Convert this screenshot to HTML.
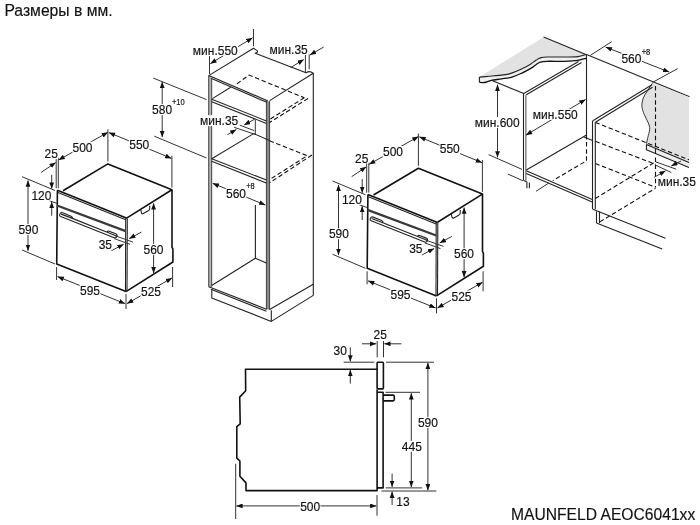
<!DOCTYPE html>
<html><head><meta charset="utf-8"><style>
html,body{margin:0;padding:0;background:#fff;width:700px;height:525px;overflow:hidden}
svg{display:block;filter:grayscale(1)}
text{font-family:"Liberation Sans",sans-serif;fill:#111;stroke:#111;stroke-width:0.15px}
.d{stroke:#333;stroke-width:1;fill:none}
.o{stroke:#111;stroke-width:1.6;fill:none;stroke-linejoin:round}
.o2{stroke:#222;stroke-width:1.1;fill:none;stroke-linejoin:round}
.o3{stroke:#666;stroke-width:1;fill:none}
.e{stroke:#333;stroke-width:0.9;fill:none}
.th{stroke:#fff;stroke-width:3px;paint-order:stroke;stroke-linejoin:round}
.ds{stroke:#111;stroke-width:1.1;fill:none;stroke-dasharray:4.5 2.6}
</style></head><body>
<svg width="700" height="525" viewBox="0 0 700 525">
<defs>
<marker id="ah" markerWidth="8" markerHeight="6" refX="6.2" refY="2.4" orient="auto" markerUnits="userSpaceOnUse"><path d="M0,0 L6.4,2.4 L0,4.8 z" fill="#111"/></marker>
<marker id="ahs" markerWidth="8" markerHeight="6" refX="0.2" refY="2.4" orient="auto" markerUnits="userSpaceOnUse"><path d="M6.4,0 L0,2.4 L6.4,4.8 z" fill="#111"/></marker>
</defs>
<g id="oven">
<path class="o" d="M63,190.7 L107.9,163.9 L171.9,189.8 L127,217.9"/>
<path class="o" d="M172,189.8 L172,247.3 L172.9,248.8 L172.9,262 L126,291.6"/>
<path class="o" d="M57.4,190.3 L56.7,264 L126,291.6"/>
<path class="o2" d="M125.7,218.3 L125.5,291.6"/>
<path class="o2" d="M127.3,218.3 L127,291"/>
<path class="o" d="M57.4,190.3 L127,218.3"/>
<path class="o2" d="M58,192.5 L125.7,219.8"/>
<path d="M57,205.5 L125.7,231.2" stroke="#3a3a3a" stroke-width="2.3" fill="none"/>
<path class="o2" transform="translate(59.3,216) rotate(21.6)" d="M0,-1 Q-0.8,-4.2 2,-4.2 L11,-4.2 Q13,-4.2 13,-2.6 L50.5,-2.6 L50.5,-3 Q50.5,-4.2 52,-4.2 L59,-4.2 Q61.5,-4.2 61,-1.5 Q60.5,0 59,0 L1.5,0 Q0,0 0,-1 Z M1,-2.4 L13,-2.6 M50.5,-2.6 L60.5,-2.4"/>
<path class="o2" d="M140.8,209.6 L141.5,213 Q142,214.3 143.3,213.6 L148.6,210.6 Q149.7,209.9 149.7,208.5 L149.8,205.8"/>
<line class="d" x1="58.6" y1="160" x2="107.9" y2="132.3" marker-start="url(#ahs)" marker-end="url(#ah)"/>
<path class="d" d="M56.2,157.9 L56.2,188.3"/>
<path class="d" d="M58.3,157.9 L58.3,188.3"/>
<line class="d" x1="41.1" y1="172.4" x2="55.7" y2="162.6" marker-end="url(#ah)"/>
<path class="d" d="M107.9,129.3 L107.9,161.5"/>
<line class="d" x1="108.9" y1="132.6" x2="171.4" y2="158.3" marker-start="url(#ahs)" marker-end="url(#ah)"/>
<path class="d" d="M171.9,155.7 L171.9,187.6"/>
<path class="d" d="M22.1,176.7 L55,190.5"/>
<line class="d" x1="51.7" y1="174.8" x2="51.7" y2="188.6" marker-end="url(#ah)"/>
<path class="d" d="M48.8,200.5 L56.9,203.3"/>
<line class="d" x1="51.7" y1="215.7" x2="51.7" y2="201.9" marker-end="url(#ah)"/>
<line class="d" x1="28" y1="180.5" x2="28" y2="250.7" marker-start="url(#ahs)" marker-end="url(#ah)"/>
<path class="d" d="M22.1,250 L55,264"/>
<line class="d" x1="153.6" y1="203.3" x2="153.6" y2="273" marker-start="url(#ahs)" marker-end="url(#ah)"/>
<line class="d" x1="141.4" y1="232.1" x2="129.3" y2="238.6" marker-end="url(#ah)"/>
<line class="d" x1="111.4" y1="250.7" x2="123.6" y2="244.3" marker-end="url(#ah)"/>
<path class="d" d="M115,235.7 L132.9,242.1"/>
<path class="d" d="M114.3,238.6 L130,244.3"/>
<path class="d" d="M56.6,267 L56.6,280"/>
<path class="d" d="M126,294 L126,309"/>
<path class="d" d="M172.6,267 L172.6,287"/>
<line class="d" x1="57.6" y1="276.6" x2="125" y2="303.6" marker-start="url(#ahs)" marker-end="url(#ah)"/>
<line class="d" x1="127" y1="303.6" x2="172" y2="278" marker-start="url(#ahs)" marker-end="url(#ah)"/>
<rect x="72.16" y="141.69" width="20.68" height="10.94" fill="#fff"/>
<text transform="translate(72.48,151.70) scale(1,1.1)" font-size="12">500</text>
<rect x="44.33" y="148.19" width="13.84" height="10.94" fill="#fff"/>
<text transform="translate(44.53,158.20) scale(1,1.1)" font-size="12">25</text>
<rect x="128.96" y="138.89" width="20.68" height="10.94" fill="#fff"/>
<text transform="translate(129.28,148.90) scale(1,1.1)" font-size="12">550</text>
<rect x="31.52" y="189.79" width="20.26" height="10.94" fill="#fff"/>
<text transform="translate(31.42,199.80) scale(1,1.1)" font-size="12">120</text>
<rect x="18.06" y="223.99" width="20.68" height="10.94" fill="#fff"/>
<text transform="translate(18.38,234.00) scale(1,1.1)" font-size="12">590</text>
<rect x="143.21" y="243.89" width="20.68" height="10.94" fill="#fff"/>
<text transform="translate(143.53,253.90) scale(1,1.1)" font-size="12">560</text>
<rect x="98.36" y="238.89" width="13.99" height="10.94" fill="#fff"/>
<text transform="translate(98.70,248.90) scale(1,1.1)" font-size="12">35</text>
<rect x="79.68" y="284.69" width="20.65" height="10.94" fill="#fff"/>
<text transform="translate(80.00,294.70) scale(1,1.1)" font-size="12">595</text>
<rect x="140.67" y="286.29" width="20.65" height="10.94" fill="#fff"/>
<text transform="translate(141.00,296.30) scale(1,1.1)" font-size="12">525</text>
</g>
<use href="#oven" transform="translate(310.5,4.3)"/>
<rect x="208.7" y="76" width="3" height="211" fill="#b4b4b4"/>
<path class="e" d="M208.7,75.6 L208.7,286.7"/>
<path class="e" d="M211.7,78 L211.7,286.7"/>
<rect x="266.4" y="101.5" width="3.2" height="208" fill="#8a8a8a"/>
<path class="e" d="M266.4,101 L266.4,309.5"/>
<path class="e" d="M269.6,101 L269.6,309.5"/>
<path class="o2" d="M208.7,75.6 L253.5,48.3 L257,50.6 Q258.2,51.6 256.8,52.5 L255.2,53.3 L306,72.7 Q309,71 311,72 L313.3,73.3 L269.6,100.6"/>
<path class="o2" d="M208.7,75.6 L267.9,100.9"/>
<path class="o2" d="M211.5,78.6 L266.8,102.3"/>
<path class="o2" d="M313.3,73.3 L313.3,295.4"/>
<path class="o2" d="M211.7,99.2 L266.4,120.9"/>
<path class="o2" d="M211.7,101.8 L266.4,123.4"/>
<path class="o2" d="M212.4,98.6 L230.7,87.2"/>
<path class="ds" d="M237,83.7 L249,75.1 L304.3,97.7"/>
<path class="ds" d="M304.3,97.7 L269.6,119.5"/>
<path class="ds" d="M308,98.5 L269.6,122.5"/>
<path class="d" d="M255.3,119.2 L255.3,135"/>
<path class="o2" d="M253.7,133.6 L269.6,140.6"/>
<path class="d" d="M239.7,125.1 L254.3,130.7"/>
<path class="d" d="M234.1,127.3 L254.3,134.1"/>
<path class="o2" d="M211.7,158.8 L266.4,180"/>
<path class="o2" d="M211.7,161.2 L266.4,183"/>
<path class="o2" d="M211.7,158.8 L253.7,133.6"/>
<path class="ds" d="M269.6,140.8 L307.2,155.7 L269.6,179.6"/>
<path class="ds" d="M312,155 L269.6,182.8"/>
<line class="d" x1="227.5" y1="134.6" x2="236.3" y2="129.5" marker-end="url(#ah)"/>
<line class="d" x1="254.4" y1="119.3" x2="244.2" y2="124.9" marker-end="url(#ah)"/>
<rect x="200.08" y="115.19" width="38.53" height="10.94" fill="#fff"/>
<text transform="translate(200.04,125.20) scale(1,1.1)" font-size="12">мин.35</text>
<line class="d" x1="212.7" y1="183.3" x2="265.3" y2="205" marker-start="url(#ahs)" marker-end="url(#ah)"/>
<rect x="225.66" y="188.29" width="20.68" height="10.94" fill="#fff"/>
<text transform="translate(225.98,198.30) scale(1,1.1)" font-size="12">560</text>
<rect x="246.06" y="183.05" width="8.87" height="6.84" fill="#fff"/>
<text transform="translate(246.21,189.30) scale(1,1.1)" font-size="7.5">+8</text>
<path class="o2" d="M255.4,205 L255.4,258.2"/>
<path class="o2" d="M211.7,285.5 L255.4,258.2 L266.4,263"/>
<path class="o2" d="M208.7,286.7 L266.4,309.2"/>
<path class="o2" d="M211,289.2 L266.4,311.3"/>
<path class="o2" d="M211.8,289.2 L211.8,297.9 L271.3,321.4 L271.3,310.3"/>
<path class="o2" d="M271.3,321.4 L313.3,295.4"/>
<path class="o2" d="M269.6,309.5 L313.3,284.2"/>
<path class="d" d="M209.5,55.7 L209.5,74"/>
<path class="d" d="M253.5,29 L253.5,46.3"/>
<line class="d" x1="210.4" y1="63.6" x2="252.5" y2="37.9" marker-start="url(#ahs)" marker-end="url(#ah)"/>
<rect x="192.89" y="44.89" width="45.22" height="10.94" fill="#fff"/>
<text transform="translate(192.85,54.90) scale(1,1.1)" font-size="12">мин.550</text>
<path class="d" d="M305.4,55 L305.4,72.7"/>
<path class="d" d="M309.2,54.4 L309.2,69.3"/>
<line class="d" x1="290.6" y1="67.6" x2="303.7" y2="59.6" marker-end="url(#ah)"/>
<line class="d" x1="323.7" y1="47" x2="310" y2="55" marker-end="url(#ah)"/>
<rect x="269.53" y="43.99" width="38.53" height="10.94" fill="#fff"/>
<text transform="translate(269.49,54.00) scale(1,1.1)" font-size="12">мин.35</text>
<path class="d" d="M153.3,78.1 L206.5,99.6"/>
<path class="d" d="M154.3,136.2 L206.5,158"/>
<line class="d" x1="162.2" y1="81.9" x2="162.2" y2="137.1" marker-start="url(#ahs)" marker-end="url(#ah)"/>
<rect x="151.76" y="104.19" width="20.68" height="10.94" fill="#fff"/>
<text transform="translate(152.08,114.20) scale(1,1.1)" font-size="12">580</text>
<rect x="171.81" y="99.05" width="13.07" height="6.84" fill="#fff"/>
<text transform="translate(171.96,105.30) scale(1,1.1)" font-size="7.5">+10</text>
<path fill="#e2e2e2" stroke="none" d="M543.6,37.1 L586.1,54.4 L585.5,54.6 L585.5,54.6 C584.25,54.93 581.53,56.20 578,56.6 C574.47,57.00 569.45,56.93 564.3,57 C559.15,57.07 551.10,56.85 547.1,57 C543.10,57.15 542.15,57.35 540.3,57.9 C538.45,58.45 537.63,59.25 536,60.3 C534.37,61.35 532.22,63.10 530.5,64.2 C528.78,65.30 527.93,65.75 525.7,66.9 C523.47,68.05 519.95,69.90 517.1,71.1 C514.25,72.30 511.60,73.38 508.6,74.1 C505.60,74.82 502.38,75.03 499.1,75.4 C495.82,75.77 492.18,76.02 488.9,76.3 C485.62,76.58 480.98,76.97 479.4,77.1 L479.4,77.1 Z"/>
<path fill="#f0f0f0" stroke="none" d="M479.4,77.1 C480.98,76.97 485.62,76.58 488.9,76.3 C492.18,76.02 495.82,75.77 499.1,75.4 C502.38,75.03 505.60,74.82 508.6,74.1 C511.60,73.38 514.25,72.30 517.1,71.1 C519.95,69.90 523.47,68.05 525.7,66.9 C527.93,65.75 528.78,65.30 530.5,64.2 C532.22,63.10 534.37,61.35 536,60.3 C537.63,59.25 538.45,58.45 540.3,57.9 C542.15,57.35 543.10,57.15 547.1,57 C551.10,56.85 559.15,57.07 564.3,57 C569.45,56.93 574.47,57.00 578,56.6 C581.53,56.20 584.25,54.93 585.5,54.6 L586,58.3 C584.67,58.65 581.62,59.90 578,60.4 C574.38,60.90 569.45,61.15 564.3,61.3 C559.15,61.45 551.10,61.17 547.1,61.3 C543.10,61.43 542.15,61.53 540.3,62.1 C538.45,62.67 537.58,63.65 536,64.7 C534.42,65.75 533.23,66.97 530.8,68.4 C528.37,69.83 524.53,71.85 521.4,73.3 C518.27,74.75 515.28,76.17 512,77.1 C508.72,78.03 505.13,78.35 501.7,78.9 C498.27,79.45 494.25,79.80 491.4,80.4 C488.55,81.00 486.60,82.18 484.6,82.5 C482.60,82.82 480.27,82.33 479.4,82.3 Z"/>
<path class="o2" d="M479.4,77.1 C480.98,76.97 485.62,76.58 488.9,76.3 C492.18,76.02 495.82,75.77 499.1,75.4 C502.38,75.03 505.60,74.82 508.6,74.1 C511.60,73.38 514.25,72.30 517.1,71.1 C519.95,69.90 523.47,68.05 525.7,66.9 C527.93,65.75 528.78,65.30 530.5,64.2 C532.22,63.10 534.37,61.35 536,60.3 C537.63,59.25 538.45,58.45 540.3,57.9 C542.15,57.35 543.10,57.15 547.1,57 C551.10,56.85 559.15,57.07 564.3,57 C569.45,56.93 574.47,57.00 578,56.6 C581.53,56.20 584.25,54.93 585.5,54.6"/>
<path class="o" style="stroke-width:1.3" d="M479.4,82.3 C480.27,82.33 482.60,82.82 484.6,82.5 C486.60,82.18 488.55,81.00 491.4,80.4 C494.25,79.80 498.27,79.45 501.7,78.9 C505.13,78.35 508.72,78.03 512,77.1 C515.28,76.17 518.27,74.75 521.4,73.3 C524.53,71.85 528.37,69.83 530.8,68.4 C533.23,66.97 534.42,65.75 536,64.7 C537.58,63.65 538.45,62.67 540.3,62.1 C542.15,61.53 543.10,61.43 547.1,61.3 C551.10,61.17 559.15,61.45 564.3,61.3 C569.45,61.15 574.38,60.90 578,60.4 C581.62,59.90 584.67,58.65 586,58.3"/>
<path class="o2" d="M479.4,77.1 L479.4,82.3"/>
<path class="o2" d="M543.6,37.1 L586.5,54.7"/>
<path class="o2" d="M586.5,54.5 L586.5,135"/>
<path class="o2" d="M491.4,80.3 L523.8,93.5"/>
<path class="o2" d="M523.5,93.4 L523.5,180.6"/>
<path class="e" d="M525.9,94.8 L525.9,180.6"/>
<path class="o2" d="M523.8,93.4 L578.5,61.5"/>
<path class="o2" d="M526.3,94.8 L581.5,62.5"/>
<path class="o2" d="M526.3,170 L586.5,134.9"/>
<path class="o2" d="M526.3,170.7 L592.8,199.7"/>
<path class="o2" d="M526.3,173.6 L592.8,202.3"/>
<path class="o2" d="M523.8,180.6 L526.9,182 L526.9,188.2"/>
<path class="o2" d="M529.4,182.5 L529.4,188.2"/>
<path class="ds" d="M586.5,135 L586.5,160.8 L552.8,180.6"/>
<path class="d" d="M549,182.9 L536,191.3"/>
<path class="d" d="M488.6,154.6 L522,169.4"/>
<path class="d" d="M508,174.1 L523,180.8"/>
<line class="d" x1="497.5" y1="84.7" x2="497.5" y2="157.4" marker-start="url(#ahs)" marker-end="url(#ah)"/>
<rect x="474.79" y="116.99" width="45.22" height="10.94" fill="#fff"/>
<text transform="translate(474.75,127.00) scale(1,1.1)" font-size="12">мин.600</text>
<line class="d" x1="526" y1="135.1" x2="585.5" y2="99.5" marker-start="url(#ahs)" marker-end="url(#ah)"/>
<rect x="532.84" y="108.89" width="45.22" height="10.94" fill="#fff"/>
<text transform="translate(532.80,118.90) scale(1,1.1)" font-size="12">мин.550</text>
<path class="o2" d="M586.5,54.5 L689.5,96.8"/>
<path class="d" d="M590.3,55.4 L611.7,41.7"/>
<path class="d" d="M652.5,82.4 L677.7,68.6"/>
<line class="d" x1="605.7" y1="47.1" x2="669.1" y2="72" marker-start="url(#ahs)" marker-end="url(#ah)"/>
<rect x="621.11" y="53.19" width="20.68" height="10.94" fill="#fff"/>
<text transform="translate(621.43,63.20) scale(1,1.1)" font-size="12">560</text>
<rect x="641.56" y="48.95" width="8.87" height="6.84" fill="#fff"/>
<text transform="translate(641.71,55.20) scale(1,1.1)" font-size="7.5">+8</text>
<path fill="#e2e2e2" stroke="none" d="M652.5,82.9 L689,97 L689,167.5 L646.4,149.8 L646.5,144.2 C646.58,143.67 646.70,142.45 647,141 C647.30,139.55 647.93,137.00 648.3,135.5 C648.67,134.00 648.97,133.33 649.2,132 C649.43,130.67 649.92,129.17 649.7,127.5 C649.48,125.83 648.82,124.18 647.9,122 C646.98,119.82 645.20,117.03 644.2,114.4 C643.20,111.77 642.05,108.93 641.9,106.2 C641.75,103.47 642.45,100.45 643.3,98 C644.15,95.55 645.47,93.98 647,91.5 C648.53,89.02 651.58,84.50 652.5,83.1 Z"/>
<path class="o2" style="stroke-width:0.9" d="M652.5,83.1 C651.58,84.50 648.53,89.02 647,91.5 C645.47,93.98 644.15,95.55 643.3,98 C642.45,100.45 641.75,103.47 641.9,106.2 C642.05,108.93 643.20,111.77 644.2,114.4 C645.20,117.03 646.98,119.82 647.9,122 C648.82,124.18 649.48,125.83 649.7,127.5 C649.92,129.17 649.43,130.67 649.2,132 C648.97,133.33 648.67,134.00 648.3,135.5 C647.93,137.00 647.30,139.55 647,141 C646.70,142.45 646.58,143.67 646.5,144.2"/>
<path fill="#eeeeee" stroke="none" d="M646.4,144.5 L689,162.6 L689,167.5 L646.4,149.8 Z"/>
<path class="o2" d="M646.4,144.5 L689,162.6 M689,167.5 L646.4,149.8 L646.4,144.5 M655.5,148.4 L655.5,153.6"/>
<path class="ds" d="M595.4,122.4 L689,159.8"/>
<path class="o2" d="M592.5,120.8 L592.5,209.2"/>
<path class="o2" d="M595.3,122.3 L595.3,209.2"/>
<path class="o2" d="M592.8,120.8 L652,84.7"/>
<path class="o2" d="M595.4,122.3 L652.5,87.3"/>
<path class="o2" d="M592.8,209.2 L665.5,238.3"/>
<path class="o2" d="M596.5,211.5 L596.5,223"/>
<path class="o2" d="M599.5,211.5 L599.5,223"/>
<path class="o2" d="M596.5,223 L662.2,249"/>
<path class="ds" d="M655.5,86 L655.5,147"/>
<path class="ds" d="M655.5,157.5 L655.5,187.3"/>
<path class="ds" d="M595.4,141.3 L655.5,164.3"/>
<path class="ds" d="M595.4,163.5 L655.5,187.3"/>
<path class="ds" d="M599.8,221.9 L655.5,188.2"/>
<path class="ds" d="M595.3,198.5 L655.5,161.8"/>
<path class="o2" d="M584,137 L592.5,140.5"/>
<path class="d" d="M655.5,161.8 L676.2,169.2"/>
<path class="d" d="M655.5,165.1 L671.3,172.5"/>
<line class="d" x1="681.1" y1="161" x2="671.3" y2="165.9" marker-end="url(#ah)"/>
<line class="d" x1="654" y1="177.4" x2="665.5" y2="170.9" marker-end="url(#ah)"/>
<rect x="657.74" y="175.89" width="38.53" height="10.94" fill="#fff"/>
<text transform="translate(657.70,185.90) scale(1,1.1)" font-size="12">мин.35</text>
<path class="o" d="M377.1,369.3 L245.5,369.3 L245.7,390.7 L239.7,397.1 L240.2,423.8 L236.8,426.7 L236.8,458.1 L239.9,461 L239.9,476.2 L246,482.9 L246,490.6 L377.1,490.6 L377.1,389.4"/>
<rect class="o" x="377.1" y="362.3" width="6.3" height="26.6" rx="0.8"/>
<path class="o" d="M377.1,392.3 L383.1,392.3 L383.1,487.9 L377.1,487.9"/>
<path class="o" d="M383.4,395.1 L393,395.1 Q394.3,395.1 394.3,396.4 L394.3,399.6 Q394.3,400.9 393,400.9 L383.4,400.9"/>
<path class="d" d="M343.6,362.2 L374.3,362.2"/>
<path class="d" d="M386,362.2 L434,362.2"/>
<path class="d" d="M385.5,392.3 L420,392.3"/>
<path class="d" d="M385.7,487.9 L422.1,487.9"/>
<path class="d" d="M381.4,491 L436.4,491"/>
<path class="d" d="M377.2,341 L377.2,357.3"/>
<path class="d" d="M383.5,341 L383.5,357.3"/>
<line class="d" x1="362" y1="343.8" x2="376.2" y2="343.8" marker-end="url(#ah)"/>
<line class="d" x1="401.4" y1="343.8" x2="384.3" y2="343.8" marker-end="url(#ah)"/>
<line class="d" x1="350.3" y1="347.3" x2="350.3" y2="361.4" marker-end="url(#ah)"/>
<line class="d" x1="350.3" y1="383.6" x2="350.3" y2="370" marker-end="url(#ah)"/>
<line class="d" x1="427.9" y1="362.8" x2="427.9" y2="490.3" marker-start="url(#ahs)" marker-end="url(#ah)"/>
<line class="d" x1="411.3" y1="393.2" x2="411.3" y2="487" marker-start="url(#ahs)" marker-end="url(#ah)"/>
<line class="d" x1="392.1" y1="473.6" x2="392.1" y2="486.9" marker-end="url(#ah)"/>
<line class="d" x1="392.1" y1="505" x2="392.1" y2="491.7" marker-end="url(#ah)"/>
<line class="d" x1="236.4" y1="505.9" x2="376.3" y2="505.9" marker-start="url(#ahs)" marker-end="url(#ah)"/>
<path class="d" d="M235.7,463.8 L235.7,519.1"/>
<path class="d" d="M377,495 L377,515.7"/>
<rect x="373.33" y="329.29" width="13.84" height="10.94" fill="#fff"/>
<text transform="translate(373.53,339.30) scale(1,1.1)" font-size="12">25</text>
<rect x="333.24" y="344.79" width="14.02" height="10.94" fill="#fff"/>
<text transform="translate(333.59,354.80) scale(1,1.1)" font-size="12">30</text>
<rect x="417.56" y="416.99" width="20.68" height="10.94" fill="#fff"/>
<text transform="translate(417.88,427.00) scale(1,1.1)" font-size="12">590</text>
<rect x="401.27" y="440.93" width="20.86" height="10.81" fill="#fff"/>
<text transform="translate(401.80,450.80) scale(1,1.1)" font-size="12">445</text>
<rect x="396.34" y="495.99" width="13.51" height="10.94" fill="#fff"/>
<text transform="translate(396.25,506.00) scale(1,1.1)" font-size="12">13</text>
<rect x="299.81" y="501.39" width="20.68" height="10.94" fill="#fff"/>
<text transform="translate(300.13,511.40) scale(1,1.1)" font-size="12">500</text>
<text class="t" transform="translate(4.4,16) scale(1,1.1)" font-size="15.7" text-anchor="start">Размеры в мм.</text>
<text class="t" transform="translate(511,519.7) scale(1,1.1)" font-size="15.65" text-anchor="start">MAUNFELD AEOC6041xx</text>
</svg>
</body></html>
